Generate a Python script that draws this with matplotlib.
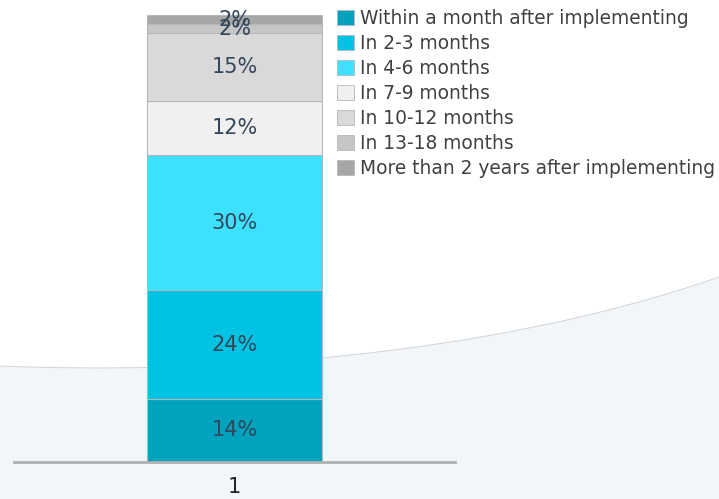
import numpy as np
import matplotlib.pyplot as plt
from matplotlib.path import Path
from matplotlib.patches import PathPatch, Patch

# data
categories = ['Within a month after implementing', 'In 2-3 months', 'In 4-6 months',
              'In 7-9 months', 'In 10-12 months', 'In 13-18 months',
              'More than 2 years after implementing']
shares = [14, 24, 30, 12, 15, 2, 2]
colors = ['#00a3bd', '#00c3e3', '#3de1fe', '#f0f0f0', '#d9d9d9', '#c6c6c6', '#a6a6a6']
x_labels = ['1']

W, H = 719, 499
plt.rcParams['font.family'] = ['DejaVu Sans']
fig = plt.figure(figsize=(W / 100, H / 100), dpi=100)

# decorative background swoosh (pixel coords, y from top)
curve = [(0, 366), (200, 374), (480, 360), (719, 277)]
pts = curve + [(719, 499), (0, 499), (0, 366)]
codes = [Path.MOVETO, Path.CURVE4, Path.CURVE4, Path.CURVE4,
         Path.LINETO, Path.LINETO, Path.CLOSEPOLY]
to_fig = lambda p: [(px / W, 1 - py / H) for px, py in p]
fig.patches.append(PathPatch(Path(to_fig(pts), codes), transform=fig.transFigure,
                             facecolor='#f3f6f9', edgecolor='none', zorder=-2))
fig.patches.append(PathPatch(Path(to_fig(curve), codes[:4]), transform=fig.transFigure,
                             facecolor='none', edgecolor='#cfd4d9', lw=0.7, zorder=-1))

ax = fig.add_axes([14 / W, 37 / H, 441 / W, 451.5 / H])
ax.patch.set_alpha(0)
ax.set_zorder(1)

bottom = 0
for val, col in zip(shares, colors):
    ax.bar(1, val, width=0.397, bottom=bottom, color=col, edgecolor='#b4b8bc', linewidth=0.8)
    ax.text(1, bottom + val / 2, f'{val}%', ha='center', va='center',
            fontsize=15, color='#34465a')
    bottom += val

ax.set_xlim(0.5, 1.5)
ax.set_ylim(0, 100)
for s in ['top', 'right', 'left']:
    ax.spines[s].set_visible(False)
ax.spines['bottom'].set_color('#b0b0b0')
ax.spines['bottom'].set_linewidth(2)
ax.set_yticks([])
ax.set_xticks([1])
ax.set_xticklabels(x_labels, fontsize=15, color='#222222')
ax.tick_params(axis='x', length=0, pad=11)

handles = [Patch(facecolor=c, edgecolor='#b4b8bc', linewidth=0.6) for c in colors]
ax.legend(handles, categories, loc='upper left', bbox_to_anchor=(337 / W, 1 - 9 / H),
          bbox_transform=fig.transFigure, frameon=False, fontsize=13.4,
          handlelength=0.9, handleheight=0.9, handletextpad=0.35,
          labelspacing=0.32, borderpad=0, borderaxespad=0, labelcolor='#404040')

fig.savefig('out.png', dpi=100)
